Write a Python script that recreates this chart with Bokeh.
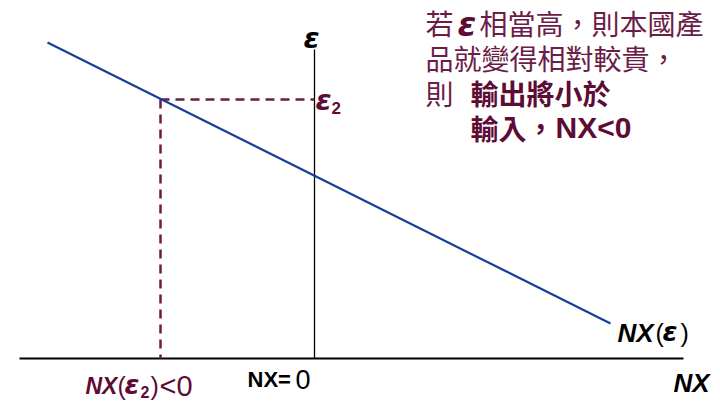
from bokeh.plotting import figure
from bokeh.models import Range1d, Label
from bokeh.embed import file_html
from bokeh.resources import INLINE

# ---- data (NX on x, real exchange rate epsilon on y) ----
nx_curve = [-26.7, 29.6]
eps_curve = [31.6, 3.5]
nx_axis = [-29.5, 36.9]
eps_axis = [0.0, 30.9]
nx2 = -15.4
eps2 = 25.9

W, H = 720, 402
p = figure(width=W, height=H, output_backend="svg", toolbar_location=None,
           x_range=Range1d(-31.4, 40.6), y_range=Range1d(-4.4, 35.8),
           x_axis_type=None, y_axis_type=None,
           min_border=0, min_border_left=0, min_border_right=0,
           min_border_top=0, min_border_bottom=0)
p.grid.visible = False
p.outline_line_color = None
p.background_fill_color = "white"
p.border_fill_color = "white"

MAROON = "#6B1D47"
MAROON_B = "#5E0B35"
BLUE = "#1A3C9C"

# axes
p.line(nx_axis, [0, 0], line_color="black", line_width=2)
p.line([0, 0], eps_axis, line_color="black", line_width=1.3)

# dashed guides
p.line([nx2, 0], [eps2, eps2], line_color=MAROON, line_width=2.5, line_dash="9 6")
p.line([nx2, nx2], [eps2, 0], line_color=MAROON, line_width=2.5, line_dash="9 6")

# NX(eps) curve
p.line(nx_curve, eps_curve, line_color=BLUE, line_width=2.2)

SANS = "Liberation Sans"
GREEK = "DejaVu Sans"
CJK = "Noto Sans CJK TC"


def lab(px, py, text, size, color="black", style="normal", font=SANS, align="left"):
    p.add_layout(Label(x=px, y=H - py, x_units="screen", y_units="screen",
                       text=text, text_font=font, text_font_size=f"{size}px",
                       text_color=color, text_font_style=style,
                       text_baseline="middle", text_align=align))


# epsilon axis label
lab(311, 37, "ε", 29, "black", "bold italic", font=GREEK, align="center")
# eps_2 label
lab(315, 99, "ε", 29, MAROON_B, "bold italic", font=GREEK)
lab(331, 107, "2", 17, MAROON_B, "bold")

# NX(eps) label
lab(617, 332, "NX", 26, "black", "bold italic")
lab(655, 332, "(", 25, "black")
lab(662, 331, "ε", 27, "black", "bold italic", font=GREEK)
lab(680, 332, ")", 25, "black")

# NX axis label
lab(709, 382, "NX", 26, "black", "bold italic", align="right")

# NX(eps2)<0
lab(85, 385, "NX", 23, MAROON_B, "bold italic")
lab(117, 385, "(", 25, MAROON_B)
lab(124, 384, "ε", 27, MAROON_B, "bold italic", font=GREEK)
lab(140, 391, "2", 16, MAROON_B, "bold")
lab(150, 385, ")", 25, MAROON_B)
lab(159, 385, "<0", 29, MAROON_B)

# NX= 0
lab(247, 379, "NX=", 22, "black", "bold")
lab(295, 379, "0", 27, "black")

# Chinese annotation
lab(425, 22, "若", 28, MAROON, font=CJK)
lab(457, 23, "ε", 34, MAROON_B, "bold italic", font=GREEK)
lab(479, 22, "相當高，則本國產", 28, MAROON, font=CJK)
lab(425, 57, "品就變得相對較貴，", 28, MAROON, font=CJK)
lab(425, 92, "則", 28, MAROON, font=CJK)
lab(470, 92, "輸出將小於", 28, MAROON_B, "bold", font=CJK)
lab(470, 127, "輸入，", 28, MAROON_B, "bold", font=CJK)
lab(555, 127, "NX<0", 30, MAROON_B, "bold")

open("out.html", "w").write(file_html(p, INLINE))
